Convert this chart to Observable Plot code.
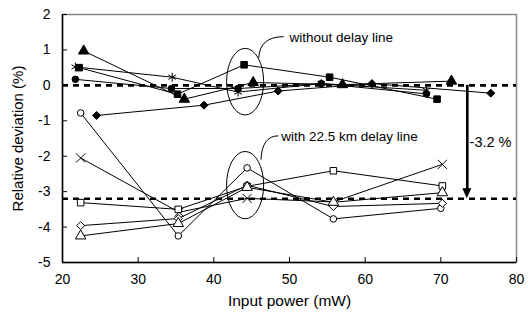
<!DOCTYPE html>
<html><head><meta charset="utf-8">
<script src="https://cdn.jsdelivr.net/npm/d3@7"></script>
<script src="https://cdn.jsdelivr.net/npm/@observablehq/plot@0.6"></script>
<style>
  html,body{margin:0;padding:0;background:#fff}
  #chart svg{display:block}
</style>
</head><body><div id="chart"></div>
<script>
// ---- axes ----
const xTicks = [20, 30, 40, 50, 60, 70, 80];
const yTicks = [2, 1, 0, -1, -2, -3, -4, -5];
const xTitle = "Input power (mW)";
const yTitle = "Relative deviation (%)";

// ---- without delay line (filled markers) ----
const trianglesX = [22.8, 36.1, 45.2, 57.0, 71.4];
const trianglesY = [0.97, -0.39, 0.08, 0.02, 0.12];
const squaresX   = [22.2, 35.2, 44.0, 55.3, 69.5];
const squaresY   = [0.50, -0.25, 0.58, 0.23, -0.39];
const circlesX   = [21.7, 34.4, 43.2, 54.2, 68.1];
const circlesY   = [0.17, -0.09, -0.09, 0.05, -0.24];
const asterisksX = [21.7, 34.5, 43.2, 54.2, 68.1];
const asterisksY = [0.52, 0.23, -0.19, 0.05, -0.14];
const diamondsX  = [24.5, 38.7, 48.5, 60.9, 76.6];
const diamondsY  = [-0.85, -0.56, -0.16, 0.05, -0.22];

// ---- with 22.5 km delay line (open markers) ----
const openCirclesX   = [22.4, 35.3, 44.4, 55.8, 70.0];
const openCirclesY   = [-0.78, -4.25, -2.33, -3.77, -3.47];
const crossesX       = [22.4, 35.4, 44.4, 55.8, 70.2];
const crossesY       = [-2.05, -3.58, -3.19, -3.29, -2.23];
const openSquaresX   = [22.4, 35.3, 44.4, 55.8, 70.2];
const openSquaresY   = [-3.31, -3.50, -2.85, -2.41, -2.84];
const openDiamondsX  = [22.4, 35.3, 44.4, 55.8, 70.2];
const openDiamondsY  = [-3.96, -3.76, -2.82, -3.42, -3.33];
const openTrianglesX = [22.4, 35.3, 44.4, 55.8, 70.2];
const openTrianglesY = [-4.25, -3.90, -2.88, -3.30, -3.03];

// ---- annotations (data units) ----
const referenceLevels = [0, -3.2];
const stepLabel = "-3.2 %";
const stepX = [73.5];
const stepFrom = [0];
const stepTo = [-3.2];
const groupLabels = ["without delay line", "with 22.5 km delay line"];
const groupLabelX = [50.0, 48.9];
const groupLabelY = [1.36, -1.44];
const ellipseCX = [44.2, 44.2];
const ellipseCY = [0.09, -2.83];
const ellipseRX = [2.45, 2.45];
const ellipseRY = [0.94, 0.95];
const leaderStartX = [46.0, 46.3];
const leaderStartY = [0.76, -2.11];
const leaderEndX = [49.3, 48.6];
const leaderEndY = [1.36, -1.44];

const series = [
  {x: trianglesX, y: trianglesY, symbol: "triangle", fill: "black"},
  {x: squaresX, y: squaresY, symbol: "square", fill: "black"},
  {x: circlesX, y: circlesY, symbol: "circle", fill: "black"},
  {x: asterisksX, y: asterisksY, symbol: "asterisk", fill: "none"},
  {x: diamondsX, y: diamondsY, symbol: "diamond2", fill: "black"},
  {x: openCirclesX, y: openCirclesY, symbol: "circle", fill: "white"},
  {x: crossesX, y: crossesY, symbol: "times", fill: "none"},
  {x: openSquaresX, y: openSquaresY, symbol: "square", fill: "white"},
  {x: openDiamondsX, y: openDiamondsY, symbol: "diamond2", fill: "white"},
  {x: openTrianglesX, y: openTrianglesY, symbol: "triangle", fill: "white"}
].map((s, k) => ({...s, rows: s.x.map((x, i) => ({x, y: s.y[i], k}))}));

const markerR = {circle: 3.3, square: 3.7, triangle: 3.9, diamond2: 3.6, asterisk: 4.2, times: 4.2};
const font = "Liberation Sans, Arial, sans-serif";

function annotations(index, {x, y}) {
  const g = d3.create("svg:g").attr("fill", "none").attr("stroke", "black");
  ellipseCX.forEach((cx, i) => {
    g.append("ellipse")
      .attr("cx", x(cx)).attr("cy", y(ellipseCY[i]))
      .attr("rx", Math.abs(x(cx + ellipseRX[i]) - x(cx)))
      .attr("ry", Math.abs(y(ellipseCY[i] + ellipseRY[i]) - y(ellipseCY[i])))
      .attr("stroke-width", 1);
  });
  leaderStartX.forEach((sx, i) => {
    const x1 = x(sx), y1 = y(leaderStartY[i]), x2 = x(leaderEndX[i]), y2 = y(leaderEndY[i]);
    g.append("path")
      .attr("d", `M${x1},${y1}Q${x1 + 1},${y2} ${x2},${y2}`)
      .attr("stroke-width", 1);
  });
  stepX.forEach((sx, i) => {
    const px = x(sx), tip = y(stepTo[i]);
    g.append("path")
      .attr("d", `M${px - 4.5},${tip - 10}L${px + 4.5},${tip - 10}L${px},${tip}Z`)
      .attr("fill", "black").attr("stroke", "none");
  });
  return g.node();
}

const marks = [
  Plot.frame({stroke: "#888", strokeWidth: 1.5}),
  Plot.ruleY(referenceLevels, {strokeDasharray: "6,5", strokeWidth: 2.6, stroke: "black"}),
  Plot.ruleX(stepX, {x: d => d, y1: stepFrom, y2: d => stepTo[0] + 0.25, strokeWidth: 2.6, stroke: "black"}),
  annotations,
  ...series.map(s => Plot.line(s.rows, {x: "x", y: "y", stroke: "black", strokeWidth: 1})),
  ...series.map(s => Plot.dot(s.rows, {x: "x", y: "y", symbol: s.symbol, r: markerR[s.symbol],
    fill: s.fill, stroke: "black", strokeWidth: 1})),
  Plot.ruleX([20], {stroke: "black", strokeWidth: 1.5}),
  Plot.ruleY([-5], {stroke: "black", strokeWidth: 1.5}),
  Plot.axisX({ticks: xTicks, tickSize: -5, tickPadding: 17, tickFormat: d => String(d), fontSize: 14, label: null, stroke: "black"}),
  Plot.axisY({ticks: yTicks, tickSize: -5, tickPadding: 17, tickFormat: d => String(d), fontSize: 14, label: null, stroke: "black"}),
  Plot.text(groupLabels, {x: groupLabelX, y: groupLabelY, text: d => d, textAnchor: "start", fontSize: 13.5, fill: "black"}),
  Plot.text([stepLabel], {x: [73.8], y: [-1.6], text: d => d, textAnchor: "start", fontSize: 14.5, fill: "black"}),
  Plot.text([xTitle], {frameAnchor: "bottom", dy: 39, lineAnchor: "middle", textAnchor: "middle", text: d => d, fontSize: 15.5, fill: "black"}),
  Plot.text([yTitle], {frameAnchor: "left", dx: -44, rotate: -90, textAnchor: "middle", lineAnchor: "middle", text: d => d, fontSize: 15, fill: "black"})
];

const chart = Plot.plot({
  width: 528, height: 312,
  marginLeft: 62, marginRight: 12, marginTop: 14, marginBottom: 50,
  style: {fontFamily: font, background: "white", color: "black"},
  x: {domain: [20, 80], axis: null},
  y: {domain: [-5, 2], axis: null},
  marks
});
document.getElementById("chart").appendChild(chart);
</script>
</body></html>
